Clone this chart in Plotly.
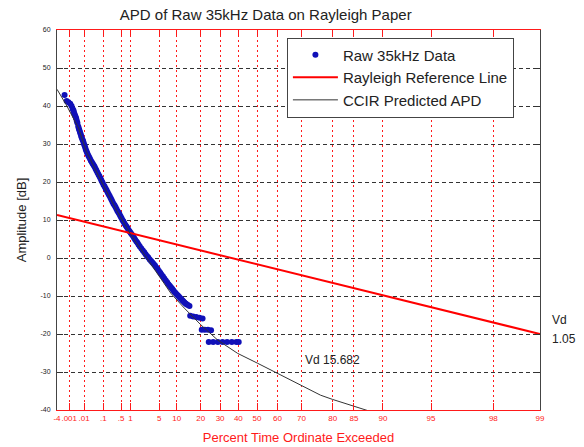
import numpy as np
import plotly.graph_objects as go

# Measured amplitude probability distribution (percent of time exceeded, dB)
raw_percent = [
    0.00044, 0.00064, 0.00088, 0.0012, 0.0015, 0.0018, 0.00205, 0.0022, 0.00245,
    0.0027, 0.0030, 0.0032, 0.0035, 0.0038, 0.0043, 0.0047, 0.0051, 0.0056,
    0.0061, 0.0066, 0.0071, 0.0079, 0.0087, 0.0096, 0.0105, 0.0116, 0.0127,
    0.0141, 0.0155, 0.0174, 0.0193, 0.0218, 0.0244, 0.0275, 0.0306, 0.0343,
    0.0382, 0.0426, 0.0473, 0.053, 0.0593, 0.066, 0.0738, 0.082, 0.0914,
    0.102, 0.114, 0.126, 0.139, 0.154, 0.169, 0.186, 0.204, 0.222, 0.241,
    0.264, 0.289, 0.315, 0.343, 0.373, 0.406, 0.44, 0.477, 0.516, 0.558,
    0.603, 0.651, 0.706, 0.764, 0.82, 0.881, 0.95, 1.02, 1.10, 1.19, 1.27,
    1.36, 1.47, 1.58, 1.70, 1.83, 2.00, 2.18, 2.36, 2.54, 2.74, 2.95, 3.17,
    3.40, 3.63, 3.87, 4.12, 4.39, 4.66, 4.95, 5.25, 5.55, 5.90, 6.25, 6.62,
    6.99, 7.36, 7.74, 8.11, 8.49, 8.83, 9.18, 9.6, 10.0, 10.4, 10.8, 11.2,
    11.6, 12.0, 12.4, 12.85, 13.3, 13.7, 14.2, 14.9,
    15.2, 16.5, 17.9, 19.4, 20.9,
    20.5, 22.0, 23.6, 25.2,
    24.0, 26.3, 28.8, 31.3, 33.8, 36.4, 38.9, 40.2,
]
raw_db = [
    42.9, 41.3, 41.0, 40.6, 40.0, 39.2, 38.8, 38.3, 37.8,
    37.4, 37.0, 36.6, 36.0, 35.5, 34.6, 34.1, 33.6, 33.1,
    32.6, 32.2, 31.7, 31.2, 30.8, 30.2, 29.7, 29.1, 28.5,
    28.0, 27.5, 27.0, 26.6, 26.1, 25.6, 25.2, 24.8, 24.4,
    24.0, 23.5, 23.0, 22.5, 22.0, 21.5, 21.0, 20.4, 19.9,
    19.3, 18.8, 18.3, 17.8, 17.3, 16.8, 16.3, 15.8, 15.3, 14.8,
    14.3, 13.9, 13.4, 12.9, 12.4, 12.0, 11.5, 11.0, 10.5, 10.0,
    9.6, 9.1, 8.6, 8.2, 7.8, 7.4, 7.0, 6.6, 6.2, 5.8, 5.3,
    4.9, 4.4, 4.0, 3.5, 3.0, 2.5, 2.0, 1.5, 1.0, 0.5, 0.1, -0.4,
    -0.8, -1.2, -1.6, -2.0, -2.5, -2.9, -3.4, -3.9, -4.4, -4.9, -5.4, -5.9,
    -6.4, -6.9, -7.3, -7.7, -8.1, -8.5, -8.9, -9.2, -9.6, -9.9, -10.2, -10.5,
    -10.8, -11.1, -11.4, -11.7, -12.0, -12.2, -12.4, -12.6,
    -15.2, -15.4, -15.5, -15.7, -15.9,
    -18.9, -18.9, -18.9, -19.0,
    -22.1, -22.1, -22.1, -22.1, -22.1, -22.1, -22.1, -22.1,
]

# Rayleigh reference line end points
rayleigh_percent = [0.0001, 99]
rayleigh_db = [11.3, -20.0]

# CCIR predicted APD
ccir_percent = [0.0001, 0.0006, 0.0045, 0.0135, 0.084, 0.36, 1.0, 1.87, 3.4,
                8.1, 12.8, 20.1, 28.7, 39.6, 50.3, 60.0, 68.5, 76.5, 79.9, 88.1]
ccir_db = [44.4, 40.3, 34.2, 28.0, 20.0, 12.3, 6.3, 2.6, -1.6,
           -9.3, -13.2, -17.6, -21.6, -25.1, -27.7, -30.3, -33.0, -36.1, -37.2, -40.4]

# Rayleigh-paper abscissa ticks
tick_percent = [0.0001, 0.001, 0.01, 0.1, 0.5, 1, 5, 10, 20, 30, 40, 50, 60,
                70, 80, 85, 90, 95, 98, 99]
tick_text = ["-4", ".001", ".01", ".1", ".5", "1", "5", "10", "20", "30", "40",
             "50", "60", "70", "80", "85", "90", "95", "98", "99"]

y_ticks = [-40, -30, -20, -10, 0, 10, 20, 30, 40, 50, 60]


def rayleigh_axis(percent):
    """Map percent-exceeded onto the linear Rayleigh-paper coordinate."""
    p = np.asarray(percent, dtype=float) / 100.0
    return -10.0 * np.log10(-np.log(p))


FONT = "Liberation Sans, Arial, sans-serif"
RED = "#ff1a1a"

fig = go.Figure()

fig.add_trace(go.Scatter(
    x=rayleigh_axis(raw_percent), y=raw_db, mode="markers",
    name="Raw 35kHz Data",
    marker=dict(color="#1010b8", size=6, line=dict(width=0)),
))
fig.add_trace(go.Scatter(
    x=rayleigh_axis(rayleigh_percent), y=rayleigh_db, mode="lines",
    name="Rayleigh Reference Line",
    line=dict(color="#ff0000", width=2),
))
fig.add_trace(go.Scatter(
    x=rayleigh_axis(ccir_percent), y=ccir_db, mode="lines",
    name="CCIR Predicted APD",
    line=dict(color="#333333", width=1),
))

x_range = rayleigh_axis([tick_percent[0], tick_percent[-1]])

fig.update_xaxes(
    range=list(x_range), automargin=False,
    tickmode="array", tickvals=rayleigh_axis(tick_percent), ticktext=tick_text,
    tickangle=0,
    showgrid=True, gridcolor=RED, griddash="2px,3px", gridwidth=1,
    showline=True, linecolor=RED, linewidth=1, mirror="ticks",
    ticks="inside", ticklen=7, tickcolor=RED, tickwidth=1,
    tickfont=dict(family=FONT, size=8, color=RED),
    zeroline=False,
    title=dict(text="Percent Time Ordinate Exceeded",
               font=dict(family=FONT, size=13, color=RED), standoff=11),
)
fig.update_yaxes(
    range=[-40, 60], automargin=False,
    tickmode="array", tickvals=y_ticks, ticktext=[str(v) for v in y_ticks],
    showgrid=True, gridcolor="#333333", griddash="4px,3px", gridwidth=1,
    showline=True, linecolor="#444444", linewidth=1, mirror="ticks",
    ticks="inside", ticklen=6, tickcolor="#333333", tickwidth=1,
    tickfont=dict(family=FONT, size=7, color="#222222"),
    ticklabelstandoff=4,
    zeroline=False,
    title=dict(text="Amplitude [dB]",
               font=dict(family=FONT, size=13, color="#222222"), standoff=10),
)

fig.update_layout(
    width=584, height=447,
    margin=dict(l=57, r=44, t=30, b=37),
    paper_bgcolor="white", plot_bgcolor="white",
    title=dict(text="APD of Raw 35kHz Data on Rayleigh Paper",
               font=dict(family=FONT, size=15, color="#222222"),
               x=0.455, xanchor="center", xref="container",
               y=1 - 15 / 447, yanchor="middle", yref="container"),
    legend=dict(
        x=0.476, y=0.98, xanchor="left", yanchor="top",
        bgcolor="white", bordercolor="#444444", borderwidth=1,
        font=dict(family=FONT, size=15, color="#222222"),
        tracegroupgap=0, itemwidth=45,
    ),
    showlegend=True,
)

fig.add_annotation(text="Vd", x=1.02, y=(410.5 - 320.7) / 381, xref="paper", yref="paper",
                   xanchor="left", yanchor="middle", showarrow=False,
                   font=dict(family=FONT, size=12, color="#222222"))
fig.add_annotation(text="1.05", x=1.02, y=(410.5 - 339.3) / 381, xref="paper", yref="paper",
                   xanchor="left", yanchor="middle", showarrow=False,
                   font=dict(family=FONT, size=12, color="#222222"))
fig.add_annotation(text="Vd 15.682", x=(302.5 - 57) / 483, y=(410.5 - 360) / 381,
                   xref="paper", yref="paper", xanchor="left", yanchor="middle",
                   showarrow=False, font=dict(family=FONT, size=12, color="#222222"))

fig.write_html("out.html")
